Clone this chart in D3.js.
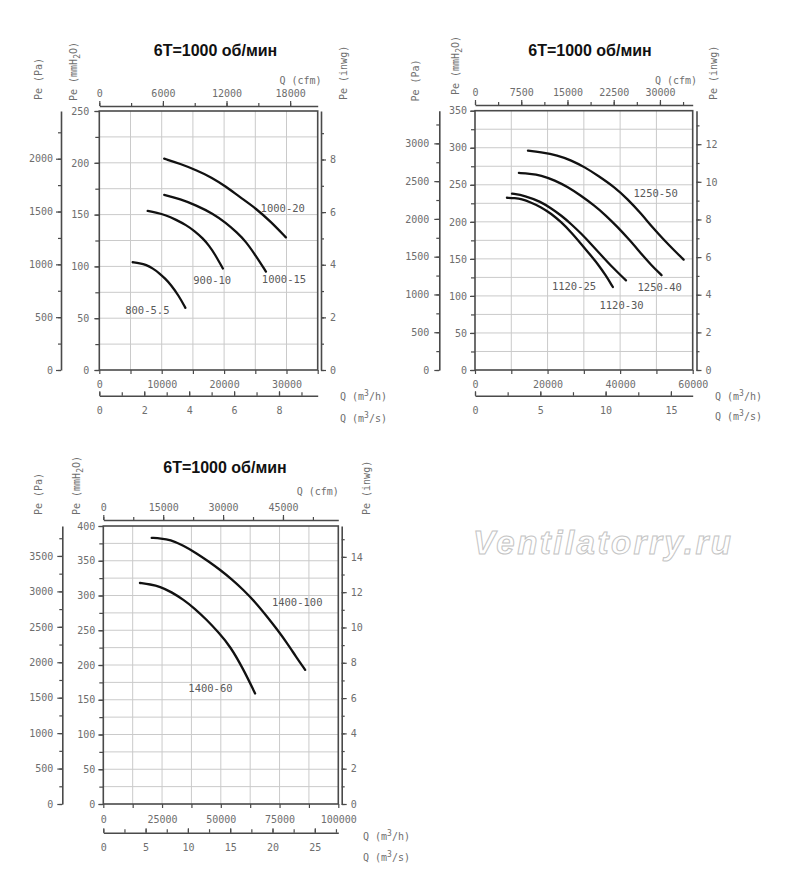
<!DOCTYPE html>
<html><head><meta charset="utf-8">
<script src="https://cdn.jsdelivr.net/npm/d3@7"></script>
<style>body{margin:0;background:#fff}svg{display:block}</style>
</head><body>
<script>
// ---------------- DATA ----------------
const chartTitle = "6T=1000 об/мин";
const watermark = "Ventilatorry.ru";

// Chart 1 : Q (m3/h) vs Pe (mmH2O)
const c1Names  = ["1000-20", "1000-15", "900-10", "800-5.5"];
const c1Q_1000_20 = [10400, 13000, 15500, 18000, 20300, 22500, 25100, 27500, 29900];
const c1P_1000_20 = [204, 199, 193, 186, 177, 167, 156, 143, 128];
const c1Q_1000_15 = [10400, 13000, 15500, 18200, 20300, 22000, 23500, 25100, 26700];
const c1P_1000_15 = [169, 165, 159, 151, 142, 133, 124, 110, 95];
const c1Q_900_10  = [7750, 9000, 10700, 12300, 13900, 15300, 16600, 17600, 18500, 19800];
const c1P_900_10  = [153.5, 152, 149.5, 145, 140, 134, 127, 120, 112, 98];
const c1Q_800_55  = [5350, 6500, 7500, 8600, 9600, 10600, 11500, 12700, 13800];
const c1P_800_55  = [104, 103, 101.5, 98, 93.5, 88, 82, 72, 60];
const c1LabelQ = [29400, 29600, 18100, 7700];
const c1LabelP = [156, 87.5, 87, 58];
const c1QTicks = [0, 10000, 20000, 30000];
const c1PTicks = [0, 50, 100, 150, 200, 250];
const c1PaTicks = [0, 500, 1000, 1500, 2000];
const c1InTicks = [0, 2, 4, 6, 8];
const c1CfmTicks = [0, 6000, 12000, 18000];
const c1STicks = [0, 2, 4, 6, 8];

// Chart 2
const c2Names = ["1250-50", "1250-40", "1120-30", "1120-25"];
const c2Q_1250_50 = [14600, 18000, 22800, 26500, 30200, 34000, 38400, 42000, 45800, 49000, 52200, 55000, 57500];
const c2P_1250_50 = [296, 294, 290, 283, 274, 262, 247, 231, 211, 192, 175, 161, 149];
const c2Q_1250_40 = [12100, 15000, 18200, 22000, 25600, 29000, 32900, 36000, 39300, 42500, 45800, 48500, 51400];
const c2P_1250_40 = [266, 265, 263, 256, 247, 236, 222, 209, 193, 176, 157, 142, 128];
const c2Q_1120_30 = [10200, 13700, 18200, 21000, 23800, 26500, 29300, 32000, 34800, 38000, 41600];
const c2P_1120_30 = [238, 235.5, 227, 218, 208.5, 197, 184, 170, 155, 138, 121];
const c2Q_1120_25 = [8800, 11000, 12800, 15500, 18200, 21000, 23800, 26500, 29200, 31500, 33800, 36000, 38000];
const c2P_1120_25 = [232.5, 232, 231, 226, 220, 211, 199.5, 186, 170.5, 157, 143.5, 128, 112];
const c2LabelQ = [49800, 50900, 40400, 27300];
const c2LabelP = [238.5, 111.5, 87.5, 112.5];
const c2QTicks = [0, 20000, 40000, 60000];
const c2PTicks = [0, 50, 100, 150, 200, 250, 300, 350];
const c2PaTicks = [0, 500, 1000, 1500, 2000, 2500, 3000];
const c2InTicks = [0, 2, 4, 6, 8, 10, 12];
const c2CfmTicks = [0, 7500, 15000, 22500, 30000];
const c2STicks = [0, 5, 10, 15];

// Chart 3
const c3Names = ["1400-100", "1400-60"];
const c3Q_1400_100 = [20600, 24500, 28400, 34000, 39800, 44800, 49700, 54800, 59600, 64800, 69600, 74000, 78100, 82000, 85900];
const c3P_1400_100 = [383, 382, 380.5, 372, 360.5, 349, 337, 323, 308, 290, 270, 251, 232, 212, 193];
const c3Q_1400_60 = [15600, 20000, 24100, 29000, 34100, 39000, 44000, 49000, 54000, 59600, 64600];
const c3P_1400_60 = [318, 316, 313, 305, 294, 281, 265, 247, 227, 194, 159];
const c3LabelQ = [82500, 45600];
const c3LabelP = [291, 166.5];
const c3QTicks = [0, 25000, 50000, 75000, 100000];
const c3PTicks = [0, 50, 100, 150, 200, 250, 300, 350, 400];
const c3PaTicks = [0, 500, 1000, 1500, 2000, 2500, 3000, 3500];
const c3InTicks = [0, 2, 4, 6, 8, 10, 12, 14];
const c3CfmTicks = [0, 15000, 30000, 45000];
const c3STicks = [0, 5, 10, 15, 20, 25];

// ---------------- UNITS / STYLE ----------------
const CFM = 1.699011, PA = 9.80665, INWG = 25.4;
const AX = "#4a4a4a", TXT = "#6e6e6e", GRID = "#cacaca";
const MONO = "'DejaVu Sans Mono', monospace";
const fmt = d3.format("d");

const svg = d3.select("body").append("svg").attr("width", 800).attr("height", 893);

function styleAxis(sel, domain) {
  sel.selectAll(".tick line").attr("stroke", AX).attr("stroke-width", 1.2);
  sel.selectAll(".tick text").attr("fill", TXT).attr("font-family", MONO).attr("font-size", 10);
  if (domain) sel.select(".domain").attr("stroke", AX).attr("stroke-width", 1.6);
  else sel.select(".domain").remove();
}

function rich(parent, x, y, rot, anchor, parts) {
  const t = parent.append("text")
    .attr("transform", `translate(${x},${y}) rotate(${rot})`)
    .attr("text-anchor", anchor)
    .attr("font-family", MONO).attr("font-size", 10).attr("fill", TXT);
  let pending = 0;
  parts.forEach(p => {
    if (typeof p === "string") {
      const ts = t.append("tspan").text(p);
      if (pending) { ts.attr("dy", -pending); pending = 0; }
    } else {
      const sh = p.sup ? -4 : 3;
      t.append("tspan").attr("dy", sh).attr("font-size", 8).text(p.sup || p.sub);
      pending = sh;
    }
  });
  return t;
}

function drawChart(c) {
  const g = svg.append("g");
  const x = d3.scaleLinear().domain([0, c.qMax]).range([c.x0, c.x1]);
  const y = d3.scaleLinear().domain([0, c.pMax]).range([c.y1, c.y0]);
  const xCfm = d3.scaleLinear().domain([0, c.qMax / CFM]).range([c.x0, c.x1]);
  const xS = d3.scaleLinear().domain([0, c.qMax / 3600]).range([c.x0, c.x1]);
  const yPa = d3.scaleLinear().domain([0, c.pMax * PA]).range([c.y1, c.y0]);
  const yIn = d3.scaleLinear().domain([0, c.pMax / INWG]).range([c.y1, c.y0]);

  // grid
  g.append("g").selectAll("line").data(d3.range(c.qGrid, c.qMax - 1, c.qGrid)).join("line")
    .attr("x1", d => x(d)).attr("x2", d => x(d)).attr("y1", c.y0).attr("y2", c.y1)
    .attr("stroke", GRID).attr("stroke-width", 1);
  g.append("g").selectAll("line").data(d3.range(25, c.pMax - 1, 25)).join("line")
    .attr("y1", d => y(d)).attr("y2", d => y(d)).attr("x1", c.x0).attr("x2", c.x1)
    .attr("stroke", GRID).attr("stroke-width", 1);

  // curves
  const line = d3.line().x(d => x(d[0])).y(d => y(d[1])).curve(d3.curveBasis);
  c.series.forEach(s => {
    g.append("path").datum(d3.zip(s.q, s.p)).attr("d", line)
      .attr("fill", "none").attr("stroke", "#111").attr("stroke-width", 2.3)
      .attr("stroke-linecap", "round");
    g.append("text").attr("x", x(s.lq)).attr("y", y(s.lp)).attr("dy", "0.36em")
      .attr("text-anchor", "middle").attr("font-family", MONO).attr("font-size", 10.5)
      .attr("fill", "#5a5a5a").text(s.name);
  });

  // frame
  g.append("rect").attr("x", c.x0).attr("y", c.y0).attr("width", c.x1 - c.x0).attr("height", c.y1 - c.y0)
    .attr("fill", "none").attr("stroke", AX).attr("stroke-width", 1.6);

  // mmH2O (left edge of plot)
  g.append("g").attr("transform", `translate(${c.x0},0)`)
    .call(d3.axisLeft(y).tickValues(d3.range(0, c.pMax + 1, 25)).tickSize(4).tickFormat(""))
    .call(s => styleAxis(s, false));
  g.append("g").attr("transform", `translate(${c.x0},0)`)
    .call(d3.axisLeft(y).tickValues(c.pTicks).tickSize(5).tickPadding(c.pOff).tickFormat(fmt))
    .call(s => styleAxis(s, false));

  // Pa axis
  g.append("g").attr("transform", `translate(${c.paX},0)`)
    .call(d3.axisLeft(yPa).tickValues(d3.range(0, c.pMax * PA, 250)).tickSize(3).tickSizeOuter(0).tickFormat(""))
    .call(s => styleAxis(s, true));
  g.append("g").attr("transform", `translate(${c.paX},0)`)
    .call(d3.axisLeft(yPa).tickValues(c.paTicks).tickSize(5).tickPadding(c.paOff).tickFormat(fmt))
    .call(s => styleAxis(s, false));

  // inwg axis
  g.append("g").attr("transform", `translate(${c.inX},0)`)
    .call(d3.axisRight(yIn).tickValues(d3.range(0, c.pMax / INWG, 1)).tickSize(3).tickSizeOuter(0).tickFormat(""))
    .call(s => styleAxis(s, true));
  g.append("g").attr("transform", `translate(${c.inX},0)`)
    .call(d3.axisRight(yIn).tickValues(c.inTicks).tickSize(5).tickPadding(4).tickFormat(fmt))
    .call(s => styleAxis(s, false));

  // cfm (top)
  g.append("g").attr("transform", `translate(0,${c.cfmY})`)
    .call(d3.axisTop(xCfm).tickValues(d3.range(0, c.qMax / CFM, c.cfmMinor)).tickSize(3).tickSizeOuter(0).tickFormat(""))
    .call(s => styleAxis(s, true));
  g.append("g").attr("transform", `translate(0,${c.cfmY})`)
    .call(d3.axisTop(xCfm).tickValues(c.cfmTicks).tickSize(5).tickPadding(4).tickFormat(fmt))
    .call(s => styleAxis(s, false));

  // m3/h (bottom of plot)
  g.append("g").attr("transform", `translate(0,${c.y1})`)
    .call(d3.axisBottom(x).tickValues(d3.range(0, c.qMax + 1, c.qGrid)).tickSize(4).tickFormat(""))
    .call(s => styleAxis(s, false));
  g.append("g").attr("transform", `translate(0,${c.y1})`)
    .call(d3.axisBottom(x).tickValues(c.qTicks).tickSize(0).tickPadding(c.qOff).tickFormat(fmt))
    .call(s => styleAxis(s, false));

  // m3/s axis
  g.append("g").attr("transform", `translate(0,${c.sY})`)
    .call(d3.axisBottom(xS).tickValues(d3.range(0, c.qMax / 3600, c.sMinor)).tickSizeInner(-3.5).tickSizeOuter(0).tickFormat(""))
    .call(s => styleAxis(s, true));
  g.append("g").attr("transform", `translate(0,${c.sY})`)
    .call(d3.axisBottom(xS).tickValues(c.sTicks).tickSizeInner(-4.5).tickSizeOuter(0).tickPadding(11).tickFormat(fmt))
    .call(s => styleAxis(s, false));

  // titles
  g.append("text").attr("x", c.titleX).attr("y", c.titleY).attr("text-anchor", "middle")
    .attr("font-family", "'Liberation Sans', Arial, sans-serif").attr("font-weight", "bold")
    .attr("font-size", 16).attr("fill", "#111").text(chartTitle);

  rich(g, c.t.pa[0], c.t.pa[1], -90, "start", ["Pe (Pa)"]);
  rich(g, c.t.mm[0], c.t.mm[1], -90, "start", ["Pe (mmH", {sub: "2"}, "O)"]);
  rich(g, c.t.inw[0], c.t.inw[1], -90, "start", ["Pe (inwg)"]);
  rich(g, c.t.cfm[0], c.t.cfm[1], 0, "start", ["Q (cfm)"]);
  rich(g, c.t.qh[0], c.t.qh[1], 0, "start", ["Q (m", {sup: "3"}, "/h)"]);
  rich(g, c.t.qs[0], c.t.qs[1], 0, "start", ["Q (m", {sup: "3"}, "/s)"]);
}

function series(names, qs, ps, lq, lp) {
  return names.map((n, i) => ({name: n, q: qs[i], p: ps[i], lq: lq[i], lp: lp[i]}));
}

drawChart({
  x0: 99.3, x1: 317.7, y0: 111, y1: 370, qMax: 35000, pMax: 250, qGrid: 5000,
  paX: 61, inX: 321, cfmY: 106, sY: 395.7, pOff: 5, paOff: 3, qOff: 11,
  qTicks: c1QTicks, pTicks: c1PTicks, paTicks: c1PaTicks, inTicks: c1InTicks,
  cfmTicks: c1CfmTicks, cfmMinor: 3000, sTicks: c1STicks, sMinor: 1,
  titleX: 215.5, titleY: 56,
  t: {pa: [41.5, 100], mm: [76.5, 101], inw: [346.5, 100], cfm: [279.5, 84], qh: [340, 400], qs: [340, 422]},
  series: series(c1Names, [c1Q_1000_20, c1Q_1000_15, c1Q_900_10, c1Q_800_55],
                 [c1P_1000_20, c1P_1000_15, c1P_900_10, c1P_800_55], c1LabelQ, c1LabelP)
});

drawChart({
  x0: 475, x1: 692.7, y0: 110.7, y1: 370, qMax: 60000, pMax: 350, qGrid: 10000,
  paX: 439.3, inX: 696.5, cfmY: 105, sY: 395.7, pOff: 3, paOff: 5, qOff: 11,
  qTicks: c2QTicks, pTicks: c2PTicks, paTicks: c2PaTicks, inTicks: c2InTicks,
  cfmTicks: c2CfmTicks, cfmMinor: 3750, sTicks: c2STicks, sMinor: 2.5,
  titleX: 590, titleY: 56,
  t: {pa: [418.5, 101.5], mm: [459, 95], inw: [716.5, 100], cfm: [655, 84], qh: [715, 400], qs: [715, 420]},
  series: series(c2Names, [c2Q_1250_50, c2Q_1250_40, c2Q_1120_30, c2Q_1120_25],
                 [c2P_1250_50, c2P_1250_40, c2P_1120_30, c2P_1120_25], c2LabelQ, c2LabelP)
});

drawChart({
  x0: 103.3, x1: 338.3, y0: 526, y1: 804, qMax: 100000, pMax: 400, qGrid: 12500,
  paX: 62.3, inX: 341.7, cfmY: 520, sY: 832.7, pOff: 3, paOff: 4, qOff: 12,
  qTicks: c3QTicks, pTicks: c3PTicks, paTicks: c3PaTicks, inTicks: c3InTicks,
  cfmTicks: c3CfmTicks, cfmMinor: 7500, sTicks: c3STicks, sMinor: 2.5,
  titleX: 225, titleY: 472.5,
  t: {pa: [41.8, 515], mm: [79.8, 515], inw: [370, 515], cfm: [296.7, 495], qh: [363, 840], qs: [363, 861]},
  series: series(c3Names, [c3Q_1400_100, c3Q_1400_60], [c3P_1400_100, c3P_1400_60], c3LabelQ, c3LabelP)
});

// watermark
svg.append("text").attr("x", 473).attr("y", 554)
  .attr("font-family", "'Liberation Sans', Arial, sans-serif").attr("font-weight", "bold")
  .attr("font-style", "italic").attr("font-size", 33)
  .attr("textLength", 258).attr("lengthAdjust", "spacing")
  .attr("fill", "#fff").attr("stroke", "#c4c4c4").attr("stroke-width", 1).text(watermark);
</script>
</body></html>
